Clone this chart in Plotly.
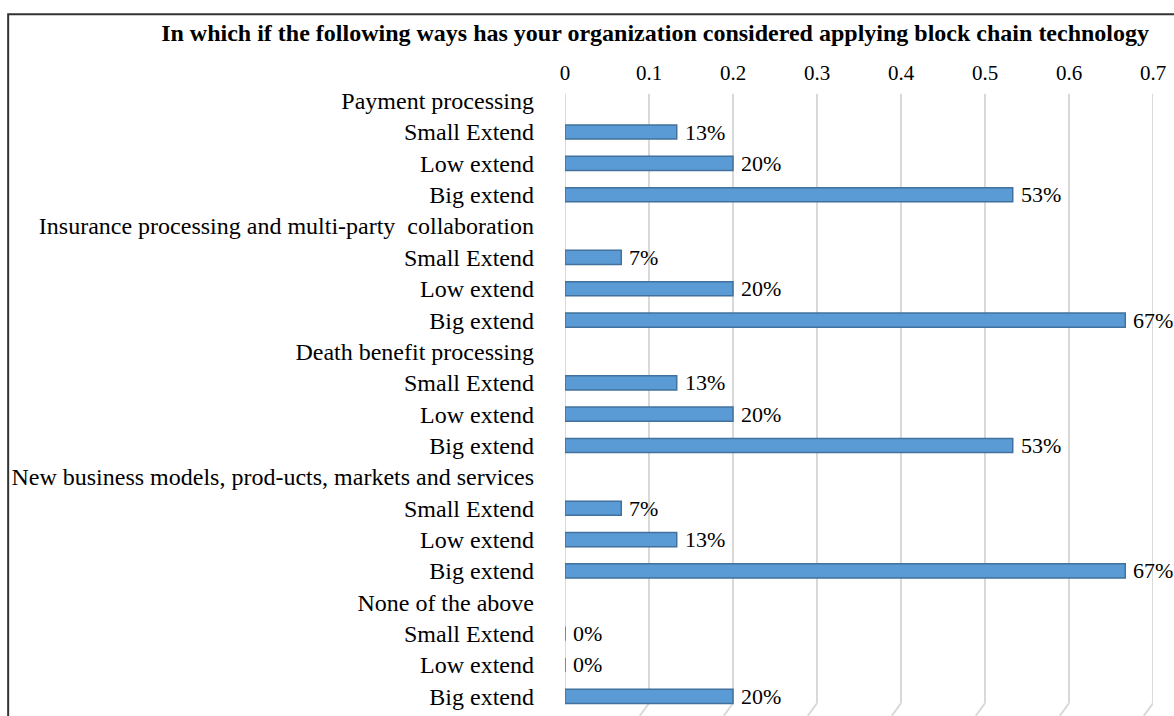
import plotly.graph_objects as go

# Chart data
title_text = "In which if the following ways has your organization considered applying block chain technology"
groups = [
    "Payment processing",
    "Insurance processing and multi-party  collaboration",
    "Death benefit processing",
    "New business models, prod-ucts, markets and services",
    "None of the above",
]
levels = ["Small Extend", "Low extend", "Big extend"]
small_extend = [0.133, 0.067, 0.133, 0.067, 0.0]
low_extend = [0.2, 0.2, 0.2, 0.133, 0.0]
big_extend = [0.533, 0.667, 0.533, 0.667, 0.2]
x_ticks = [0, 0.1, 0.2, 0.3, 0.4, 0.5, 0.6, 0.7]

SERIF = "Liberation Serif, Times New Roman, serif"
BAR_COLOR = "#5b9bd5"
EDGE_COLOR = "#41719c"

# Build rows: group header followed by its three levels
labels, rows, values = [], [], []
for g, name in enumerate(groups):
    labels.append(name)
    for lev, vals in zip(levels, [small_extend, low_extend, big_extend]):
        labels.append(lev)
        rows.append(len(labels) - 1)
        values.append(vals[g])

fig = go.Figure()
fig.add_trace(
    go.Bar(
        x=values,
        y=rows,
        orientation="h",
        width=0.45,
        marker=dict(color=BAR_COLOR, line=dict(color=EDGE_COLOR, width=1.5)),
        hoverinfo="skip",
    )
)

# Percentage labels to the right of each bar
for r, v in zip(rows, values):
    fig.add_annotation(
        x=v, y=r, text=f"{round(v * 100)}%", showarrow=False,
        xanchor="left", xshift=6, font=dict(family=SERIF, size=22, color="black"),
    )

# Back-wall gridlines with small slanted floor segment
for t in x_ticks:
    fig.add_shape(type="line", xref="x", yref="paper", x0=t, x1=t, y0=0.014, y1=0.986,
                  line=dict(color="#d9d9d9", width=2), layer="below")
    fig.add_shape(type="line", xref="x", yref="paper", x0=t, x1=t - 0.011, y0=0.014, y1=-0.006,
                  line=dict(color="#d9d9d9", width=2), layer="below")

# Outer chart frame (right and bottom edges fall outside the picture)
fig.add_shape(type="rect", xref="paper", yref="paper", x0=-0.947, x1=1.2, y0=-0.2, y1=1.113,
              line=dict(color="#333333", width=2))

fig.update_layout(
    width=1174,
    height=716,
    margin=dict(l=565, r=21, t=85, b=4),
    plot_bgcolor="white",
    paper_bgcolor="white",
    showlegend=False,
    title=dict(
        text=f"<b>{title_text}</b>",
        x=0.558, xanchor="center", y=0.954, yanchor="middle",
        font=dict(family=SERIF, size=24, color="black"),
    ),
    xaxis=dict(
        side="top",
        range=[0, 0.7],
        tickvals=x_ticks,
        ticktext=[str(t) for t in x_ticks],
        showgrid=False,
        zeroline=False,
        showline=False,
        ticks="",
        tickfont=dict(family=SERIF, size=21, color="black"),
    ),
    yaxis=dict(
        range=[len(labels) - 0.5, -0.5],
        tickvals=list(range(len(labels))),
        ticktext=labels,
        showgrid=False,
        zeroline=False,
        showline=False,
        ticks="",
        ticklabelstandoff=30,
        tickfont=dict(family=SERIF, size=24, color="black"),
    ),
)

# remove the default page margin so the figure sits at the window's corner
fig.write_html(
    "out.html",
    config={"displayModeBar": False},
    post_script="document.body.style.margin='0';document.body.style.overflow='hidden';",
)
